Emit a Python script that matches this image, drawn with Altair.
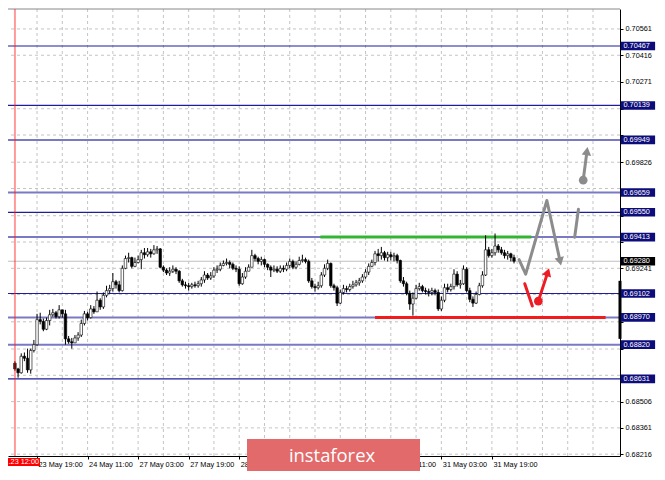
import altair as alt
import pandas as pd

# ---------------- data ----------------
first_open = 0.68718
close = [0.68686,0.68665,0.68756,0.68745,0.68681,0.68788,0.68820,0.68958,0.68948,0.68905,
         0.68953,0.68985,0.68996,0.68974,0.69012,0.68990,0.68852,0.68836,0.68830,0.68857,
         0.68873,0.68937,0.68990,0.68969,0.69017,0.69001,0.69065,0.69028,0.69092,0.69118,
         0.69129,0.69167,0.69150,0.69118,0.69241,0.69295,0.69300,0.69252,0.69273,0.69289,
         0.69327,0.69316,0.69332,0.69321,0.69343,0.69348,0.69247,0.69231,0.69215,0.69225,
         0.69236,0.69225,0.69172,0.69150,0.69145,0.69140,0.69150,0.69145,0.69156,0.69177,
         0.69204,0.69188,0.69199,0.69231,0.69236,0.69257,0.69268,0.69273,0.69263,0.69241,
         0.69236,0.69156,0.69193,0.69225,0.69247,0.69311,0.69295,0.69279,0.69289,0.69263,
         0.69247,0.69231,0.69236,0.69225,0.69241,0.69236,0.69257,0.69279,0.69247,0.69263,
         0.69284,0.69289,0.69279,0.69172,0.69140,0.69134,0.69145,0.69204,0.69241,0.69268,
         0.69145,0.69134,0.69049,0.69108,0.69129,0.69124,0.69140,0.69150,0.69161,0.69172,
         0.69193,0.69220,0.69252,0.69273,0.69321,0.69311,0.69327,0.69300,0.69316,0.69305,
         0.69311,0.69284,0.69172,0.69156,0.69103,0.69044,0.69076,0.69129,0.69140,0.69118,
         0.69113,0.69108,0.69118,0.69108,0.69017,0.69065,0.69134,0.69124,0.69140,0.69209,
         0.69150,0.69156,0.69236,0.69118,0.69070,0.69049,0.69097,0.69145,0.69204,0.69343,
         0.69311,0.69327,0.69364,0.69343,0.69327,0.69311,0.69321,0.69300,0.69280]
high = [0.68729,0.68692,0.68772,0.68777,0.68798,0.68798,0.68846,0.68990,0.68996,0.68964,
        0.68969,0.69012,0.69017,0.69006,0.69038,0.69012,0.69012,0.68868,0.68857,0.68873,
        0.68889,0.68958,0.69006,0.69001,0.69038,0.69033,0.69113,0.69076,0.69108,0.69145,
        0.69150,0.69215,0.69177,0.69172,0.69257,0.69311,0.69327,0.69305,0.69300,0.69311,
        0.69343,0.69353,0.69353,0.69348,0.69369,0.69364,0.69353,0.69257,0.69241,0.69247,
        0.69257,0.69247,0.69231,0.69183,0.69167,0.69161,0.69161,0.69167,0.69172,0.69193,
        0.69225,0.69215,0.69220,0.69247,0.69257,0.69273,0.69284,0.69295,0.69284,0.69273,
        0.69257,0.69252,0.69215,0.69247,0.69263,0.69343,0.69321,0.69305,0.69305,0.69295,
        0.69268,0.69257,0.69257,0.69252,0.69257,0.69257,0.69273,0.69295,0.69289,0.69279,
        0.69305,0.69316,0.69300,0.69289,0.69188,0.69156,0.69167,0.69220,0.69263,0.69289,
        0.69273,0.69156,0.69145,0.69124,0.69150,0.69145,0.69156,0.69172,0.69177,0.69188,
        0.69209,0.69236,0.69268,0.69289,0.69337,0.69348,0.69359,0.69337,0.69332,0.69332,
        0.69327,0.69321,0.69289,0.69193,0.69167,0.69118,0.69108,0.69150,0.69161,0.69150,
        0.69134,0.69129,0.69134,0.69129,0.69124,0.69086,0.69156,0.69156,0.69156,0.69236,
        0.69225,0.69177,0.69257,0.69247,0.69134,0.69086,0.69113,0.69161,0.69225,0.69423,
        0.69359,0.69348,0.69433,0.69375,0.69359,0.69343,0.69337,0.69327,0.69316]
low = [0.68676,0.68638,0.68660,0.68729,0.68665,0.68660,0.68777,0.68814,0.68932,0.68894,
       0.68900,0.68926,0.68974,0.68964,0.68964,0.68969,0.68820,0.68825,0.68798,0.68830,
       0.68841,0.68862,0.68926,0.68953,0.68964,0.68990,0.69001,0.69012,0.69017,0.69081,
       0.69103,0.69113,0.69129,0.69108,0.69113,0.69236,0.69273,0.69241,0.69247,0.69268,
       0.69236,0.69295,0.69305,0.69300,0.69316,0.69321,0.69241,0.69220,0.69204,0.69199,
       0.69215,0.69209,0.69161,0.69140,0.69129,0.69118,0.69129,0.69134,0.69134,0.69140,
       0.69161,0.69177,0.69177,0.69188,0.69215,0.69225,0.69252,0.69257,0.69241,0.69231,
       0.69220,0.69145,0.69150,0.69183,0.69225,0.69247,0.69279,0.69263,0.69257,0.69247,
       0.69231,0.69193,0.69220,0.69215,0.69215,0.69220,0.69225,0.69241,0.69236,0.69236,
       0.69257,0.69273,0.69268,0.69161,0.69129,0.69113,0.69124,0.69134,0.69193,0.69231,
       0.69134,0.69118,0.69033,0.69044,0.69097,0.69108,0.69113,0.69129,0.69140,0.69145,
       0.69161,0.69183,0.69204,0.69247,0.69257,0.69279,0.69289,0.69284,0.69279,0.69284,
       0.69279,0.69268,0.69161,0.69140,0.69092,0.69012,0.68980,0.69070,0.69118,0.69108,
       0.69097,0.69086,0.69092,0.69092,0.69006,0.69006,0.69054,0.69108,0.69113,0.69124,
       0.69140,0.69129,0.69150,0.69108,0.69054,0.69028,0.69044,0.69092,0.69134,0.69199,
       0.69300,0.69300,0.69311,0.69327,0.69316,0.69295,0.69289,0.69279,0.69268]

x_label_idx = [7, 23, 39, 55, 71, 87, 103, 119, 135, 151]
# the two labels fully covered by the watermark are left blank
x_labels = ["23 May 19:00", "24 May 11:00", "27 May 03:00", "27 May 19:00", "28 May 11:00",
            "", "", "30 May 11:00", "31 May 03:00", "31 May 19:00"]
x_grid_idx = [7, 15, 23, 31, 39, 47, 55, 63, 71, 79, 87, 95, 103, 111, 119, 127, 135, 143,
              151, 159, 167, 175, 183]
y_ticks = [0.70561, 0.70416, 0.70271, 0.70121, 0.69976, 0.69826, 0.69681, 0.69531, 0.69386,
           0.69241, 0.69096, 0.68946, 0.68796, 0.68651, 0.68506, 0.68361, 0.68216]
# tick labels that are not covered by a level label in the picture
y_ticks_labelled = [0.70561, 0.70416, 0.70271, 0.69826, 0.69241, 0.68506, 0.68361, 0.68216]

dark_levels = [0.70467, 0.70139, 0.69550, 0.69102, 0.68631]
light_levels = [0.69949, 0.69659, 0.69413, 0.68970, 0.68820]
all_levels = [0.70467, 0.70139, 0.69949, 0.69659, 0.69550, 0.69413, 0.69102, 0.68970, 0.68820, 0.68631]
current_price = 0.69280

green_seg = {"i": [96.7, 163.5], "p": [0.69413, 0.69413]}
red_seg = {"i": [114.0, 187.0], "p": [0.68970, 0.68970]}

gray_path_i = [159.6, 161.7, 168.4, 172.6]
gray_path_p = [0.69289, 0.69209, 0.69615, 0.69279]
gray_up_i = [177.2, 178.4]
gray_up_p = [0.69412, 0.69567]
gray_dot = (179.9, 0.69727)
gray_arrow_i = [179.9, 181.1]
gray_arrow_p = [0.69727, 0.69887]

red_path_i = [161.4, 163.8]
red_path_p = [0.69156, 0.69033]
red_dot = (165.7, 0.69060)
red_arrow_i = [165.7, 168.7]
red_arrow_p = [0.69060, 0.69220]

range_bar = [0.69172, 0.68852]
start_line_idx = 0
start_label = ".23 12:00"

X_DOMAIN = [-0.61, 189.97]
Y_DOMAIN = [0.68206, 0.70671]

# ---------------- build ----------------
n = len(close)
opens = [first_open] + close[:-1]
df = pd.DataFrame({"i": list(range(n)), "open": opens, "close": close, "high": high, "low": low})
df["up"] = df["close"] >= df["open"]

W, H = 612, 447
xs = alt.Scale(domain=X_DOMAIN, nice=False, zero=False)
ys = alt.Scale(domain=Y_DOMAIN, nice=False, zero=False)
FONT = "Liberation Sans"
FS = 7.3

label_expr = ("[" + ",".join("'%s'" % s for s in x_labels) + "][indexof(["
              + ",".join(str(v) for v in x_label_idx) + "], datum.value)]")
ylabel_expr = ("indexof([" + ",".join("'%.5f'" % v for v in y_ticks_labelled)
               + "], format(datum.value, '.5f')) >= 0 ? format(datum.value, '.5f') : ''")

xaxis = alt.Axis(values=x_label_idx, labelExpr=label_expr, orient="bottom", grid=False,
                 labelAlign="left", labelBaseline="top", labelPadding=1, tickSize=3,
                 tickColor="black", domainColor="black", labelColor="black", labelFont=FONT,
                 labelFontSize=FS, labelOverlap=False, labelFlush=False, labelBound=False,
                 title=None, labelOffset=1)
yaxis = alt.Axis(values=y_ticks, labelExpr=ylabel_expr, orient="right", grid=False, tickSize=3,
                 tickColor="black", domainColor="black", labelColor="black", labelFont=FONT,
                 labelFontSize=FS, labelPadding=2, labelOverlap=False, labelFlush=False,
                 labelBound=False, title=None)


def X(f):
    return alt.X(f, type="quantitative", scale=xs, axis=xaxis)


def Y(f):
    return alt.Y(f, type="quantitative", scale=ys, axis=yaxis)


grid_v = alt.Chart(pd.DataFrame({"i": x_grid_idx})).mark_rule(
    color="#c4c4c4", strokeDash=[3, 3], strokeWidth=1).encode(x=X("i"))
grid_h = alt.Chart(pd.DataFrame({"p": y_ticks})).mark_rule(
    color="#c4c4c4", strokeDash=[3, 3], strokeWidth=1).encode(y=Y("p"))

top_border = alt.Chart(pd.DataFrame({"p": [Y_DOMAIN[1]]})).mark_rule(
    color="#888888", strokeWidth=1).encode(y=Y("p"))

cur_line = alt.Chart(pd.DataFrame({"p": [current_price]})).mark_rule(
    color="#c0c0c0", strokeWidth=1).encode(y=Y("p"))
dark_lines = alt.Chart(pd.DataFrame({"p": dark_levels})).mark_rule(
    color="#1e1e9a", strokeWidth=1.2).encode(y=Y("p"))
light_lines = alt.Chart(pd.DataFrame({"p": light_levels})).mark_rule(
    color="#7a7ac4", strokeWidth=2).encode(y=Y("p"))

green_line = alt.Chart(pd.DataFrame(green_seg)).mark_line(
    color="#33b533", strokeWidth=3).encode(x=X("i"), y=Y("p"))
red_line = alt.Chart(pd.DataFrame(red_seg)).mark_line(
    color="#f21c1c", strokeWidth=3).encode(x=X("i"), y=Y("p"))

wicks = alt.Chart(df).mark_rule(color="black", strokeWidth=1).encode(
    x=X("i"), y=Y("low"), y2="high:Q")
bodies = alt.Chart(df).mark_bar(size=2.5, stroke="black", strokeWidth=0.6).encode(
    x=X("i"), y=Y("open"), y2="close:Q",
    color=alt.condition("datum.up", alt.value("white"), alt.value("black")))

start_line = alt.Chart(pd.DataFrame({"i": [start_line_idx]})).mark_rule(
    color="#ff2020", opacity=0.45, strokeWidth=2).encode(x=X("i"))


def path_layer(xi, pv, color):
    return alt.Chart(pd.DataFrame({"i": xi, "p": pv, "o": list(range(len(xi)))})).mark_line(
        color=color, strokeWidth=3, strokeCap="round", strokeJoin="round").encode(
        x=X("i"), y=Y("p"), order="o:Q")


def head_layer(xv, pv, angle, color):
    return alt.Chart(pd.DataFrame({"i": [xv], "p": [pv]})).mark_point(
        shape="triangle-up", filled=True, opacity=1, color=color, size=90, angle=angle).encode(
        x=X("i"), y=Y("p"))


def dot_layer(xv, pv, color):
    return alt.Chart(pd.DataFrame({"i": [xv], "p": [pv]})).mark_point(
        shape="circle", filled=True, opacity=1, color=color, size=75).encode(
        x=X("i"), y=Y("p"))


GRAY = "#8c8c8c"
RED = "#ee1c24"
arrows = [
    path_layer(gray_path_i, gray_path_p, GRAY),
    head_layer(gray_path_i[-1], gray_path_p[-1], 167, GRAY),
    path_layer(gray_up_i, gray_up_p, GRAY),
    dot_layer(gray_dot[0], gray_dot[1], GRAY),
    path_layer(gray_arrow_i, gray_arrow_p, GRAY),
    head_layer(gray_arrow_i[-1], gray_arrow_p[-1], 8, GRAY),
    path_layer(red_path_i, red_path_p, RED),
    dot_layer(red_dot[0], red_dot[1], RED),
    path_layer(red_arrow_i, red_arrow_p, RED),
    head_layer(red_arrow_i[-1], red_arrow_p[-1], 18, RED),
]

BOX = "M-1,-0.254L1,-0.254L1,0.254L-1,0.254Z"
lvl_df = pd.DataFrame({"p": all_levels, "t": ["%.5f" % v for v in all_levels]})
lvl_boxes = alt.Chart(lvl_df).mark_point(shape=BOX, size=1170, filled=True, opacity=1,
                                         color="#0c0c7a").encode(x=alt.value(630), y=Y("p"))
lvl_text = alt.Chart(lvl_df).mark_text(align="left", baseline="middle", color="white",
                                       font=FONT, fontSize=FS).encode(
    x=alt.value(615.5), y=Y("p"), text="t:N")
cur_df = pd.DataFrame({"p": [current_price], "t": ["%.5f" % current_price]})
cur_box = alt.Chart(cur_df).mark_point(shape=BOX, size=1170, filled=True, opacity=1,
                                       color="black").encode(x=alt.value(630), y=Y("p"))
cur_text = alt.Chart(cur_df).mark_text(align="left", baseline="middle", color="white",
                                       font=FONT, fontSize=FS).encode(
    x=alt.value(615.5), y=Y("p"), text="t:N")

range_rule = alt.Chart(pd.DataFrame({"a": [range_bar[0]], "b": [range_bar[1]]})).mark_rule(
    color="black", strokeWidth=3).encode(x=alt.value(W), y=Y("a"), y2="b:Q")

one = pd.DataFrame({"k": [0]})
date_box = alt.Chart(one).mark_rect(color="#ff0000").encode(
    x=alt.value(0), x2=alt.value(32), y=alt.value(449), y2=alt.value(457))
date_text = alt.Chart(pd.DataFrame({"t": [start_label]})).mark_text(
    align="right", baseline="middle", color="white", font=FONT, fontSize=FS).encode(
    x=alt.value(31), y=alt.value(453), text="t:N")

wm_box = alt.Chart(one).mark_rect(color="#e26a6a").encode(
    x=alt.value(239), x2=alt.value(412), y=alt.value(430), y2=alt.value(470))
wm_text = alt.Chart(pd.DataFrame({"t": ["instaforex"]})).mark_text(
    align="center", baseline="alphabetic", color="white", font="Open Sans",
    fontSize=18.4).encode(x=alt.value(324), y=alt.value(452.5), text="t:N")

chart = alt.layer(
    grid_v, grid_h, top_border, cur_line, dark_lines, light_lines, green_line, red_line,
    wicks, bodies, start_line, *arrows, range_rule, lvl_boxes, lvl_text, cur_box, cur_text,
    date_box, date_text, wm_box, wm_text
).properties(
    width=W, height=H,
    autosize=alt.AutoSizeParams(type="none"),
    padding={"left": 0, "top": 1, "right": 37, "bottom": 15},
    background="white",
).configure_view(stroke=None)

chart.save("out.html", embed_options={"renderer": "svg", "actions": False})
